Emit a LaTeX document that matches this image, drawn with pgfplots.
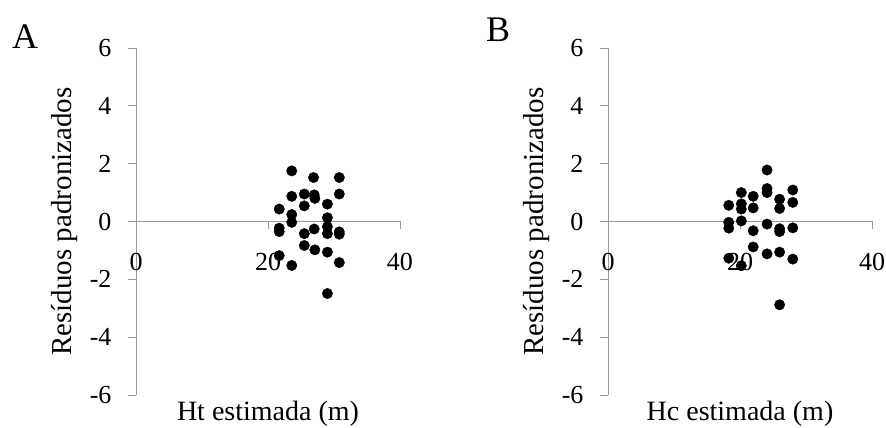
\documentclass[border=0pt]{standalone}
\usepackage{fontspec}
\setmainfont{Liberation Serif}
\usepackage{pgfplots}
\pgfplotsset{compat=1.18}

\pgfplotsset{
  resid/.style={
    scale only axis, width=264pt, height=347pt,
    xmin=0, xmax=40, ymin=-6, ymax=6,
    axis lines=middle,
    axis line style={draw=gray!80, line width=0.8pt},
    x axis line style={-}, y axis line style={-},
    xtick={0,20,40}, ytick={-6,-4,...,6},
    hide obscured x ticks=false, hide obscured y ticks=false,
    tick align=outside, major tick length=8pt,
    tick style={draw=gray!80, line width=0.8pt},
    /pgf/number format/assume math mode=true,
    tick label style={font=\fontsize{26}{30}\selectfont},
    xticklabel style={yshift=-20pt},
    yticklabel style={xshift=-13pt},
    every axis x label/.style={at={(axis description cs:0.5,0)}, anchor=north, inner sep=0pt, yshift=-6pt, font=\fontsize{28}{32}\selectfont},
    every axis y label/.style={at={(axis description cs:0,0.5)}, xshift=-58pt, rotate=90, anchor=south, inner sep=0pt, font=\fontsize{29}{33}\selectfont},
    ylabel={Resíduos padronizados},
    clip=false,
  },
  pts/.style={only marks, mark=*, mark size=5.2pt, black},
}

\begin{document}
\begin{tikzpicture}
\path[use as bounding box] (0,0) rectangle (886pt,428pt);

\begin{axis}[resid, at={(136pt,33pt)}, xlabel={Ht estimada (m)}]
\addplot[pts] coordinates {
(23.6,1.75) (26.9,1.52) (30.8,1.52) (23.6,0.87) (25.5,0.95) (27.0,0.92)
(27.1,0.80) (30.8,0.95) (25.5,0.54) (29.0,0.60) (21.7,0.43) (23.6,0.24)
(23.6,-0.03) (29.0,0.13) (29.0,-0.18) (21.7,-0.23) (21.7,-0.35) (27.0,-0.26)
(25.5,-0.42) (29.0,-0.42) (30.8,-0.36) (30.8,-0.44) (25.5,-0.83) (27.1,-0.98)
(29.0,-1.06) (21.7,-1.18) (23.6,-1.52) (30.8,-1.42) (29.0,-2.49)
};
\end{axis}

\begin{axis}[resid, at={(608pt,33pt)}, xlabel={Hc estimada (m)}]
\addplot[pts] coordinates {
(24.1,1.78) (24.1,1.14) (24.1,1.00) (20.2,1.00) (28.0,1.09) (22.0,0.87)
(26.0,0.77) (18.3,0.56) (20.2,0.61) (20.2,0.43) (22.0,0.47) (26.0,0.45)
(28.0,0.66) (20.2,0.02) (18.3,-0.03) (18.3,-0.23) (24.1,-0.09) (22.0,-0.32)
(26.0,-0.25) (26.0,-0.35) (28.0,-0.22) (22.0,-0.88) (24.1,-1.12) (26.0,-1.06)
(18.3,-1.27) (20.2,-1.53) (28.0,-1.30) (26.0,-2.88)
};
\end{axis}

\node[anchor=base west, inner sep=0pt, font=\fontsize{36}{40}\selectfont] at (12pt,379pt) {A};
\node[anchor=base west, inner sep=0pt, font=\fontsize{36}{40}\selectfont] at (486pt,386pt) {B};
\end{tikzpicture}
\end{document}
